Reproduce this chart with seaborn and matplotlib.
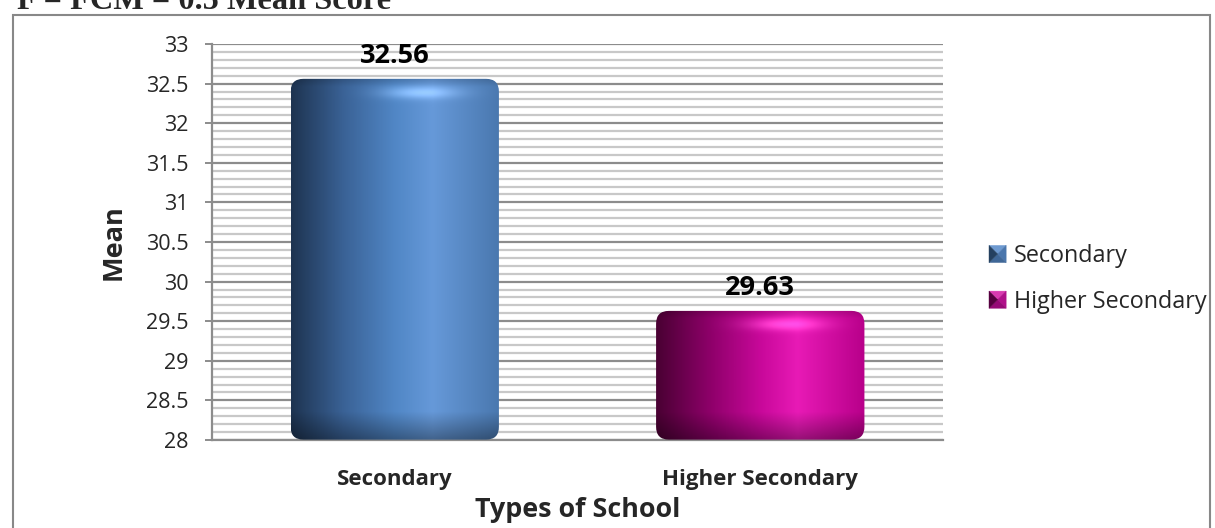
import numpy as np
import pandas as pd
import matplotlib
matplotlib.use("Agg")
import matplotlib.pyplot as plt
import seaborn as sns
from matplotlib.patches import FancyBboxPatch, Rectangle, Polygon
from matplotlib.colors import LinearSegmentedColormap
from matplotlib.ticker import MultipleLocator
from matplotlib.legend_handler import HandlerBase

categories = ["Secondary", "Higher Secondary"]
means = [32.56, 29.63]
value_labels = ["32.56", "29.63"]
yticks = [28, 28.5, 29, 29.5, 30, 30.5, 31, 31.5, 32, 32.5, 33]
ytick_labels = ["28", "28.5", "29", "29.5", "30", "30.5", "31", "31.5", "32", "32.5", "33"]

base_colors = ["#4F81BD", "#D0109F"]
grad_stops = [
    ["#1E3451", "#3A6296", "#5187C6", "#6699D9", "#4A78AF"],
    ["#4A0033", "#8C0068", "#C8089A", "#E81AB6", "#B8008A"],
]
# legend key facets: top, right, bottom, left
key_facets = [
    ["#6E9AD0", "#4A76AC", "#3F6797", "#24405F"],
    ["#D83AB0", "#B0108A", "#960A76", "#55003F"],
]

sns.set_theme(style="white")
plt.rcParams["font.family"] = ["Open Sans", "DejaVu Sans"]

W, H = 1215, 528
fig = plt.figure(figsize=(W / 100, H / 100), dpi=100)
AX_L, AX_R, AX_T, AX_B = 212, 943, 44, 440
ax = fig.add_axes([AX_L / W, 1 - AX_B / H, (AX_R - AX_L) / W, (AX_B - AX_T) / H])

df = pd.DataFrame({"School": categories, "Mean": means})
sns.barplot(data=df, x="School", y="Mean", hue="School", palette=base_colors,
            width=0.57, ax=ax, legend=False, zorder=3)

YMIN, YMAX = 28, 33
ax.set_ylim(YMIN, YMAX)
ax.set_xlim(-0.5, 1.5)
px_per_y = (AX_B - AX_T) / (YMAX - YMIN)
px_per_x = (AX_R - AX_L) / 2.0

# grid
ax.yaxis.set_minor_locator(MultipleLocator(0.1))
ax.set_yticks(yticks)
ax.set_yticklabels(ytick_labels, fontsize=15.5)
ax.grid(axis="y", which="minor", color="#C8C8C8", linewidth=1.6, zorder=0)
ax.grid(axis="y", which="major", color="#8C8C8C", linewidth=1.6, zorder=0)
ax.set_axisbelow(True)
for s in ["top", "right"]:
    ax.spines[s].set_visible(False)
for s in ["left", "bottom"]:
    ax.spines[s].set_color("#8C8C8C")
    ax.spines[s].set_linewidth(1.6)
ax.tick_params(axis="y", which="major", left=True, length=5, width=1.4, color="#8C8C8C", pad=12)
ax.tick_params(axis="y", which="minor", left=False)
ax.tick_params(axis="x", bottom=False, pad=15)
for lbl in ax.get_xticklabels():
    lbl.set_fontweight("bold")
    lbl.set_fontsize(16)

ax.set_xlabel("Types of School", fontsize=19.4, fontweight="bold", labelpad=5)
ax.set_ylabel("Mean", fontsize=19.5, fontweight="bold", labelpad=14)

# gradient fills for bars
aspect = (1 / px_per_y) / (1 / px_per_x)
bars = [p for p in ax.patches]
for i, p in enumerate(bars):
    x0, w = p.get_x(), p.get_width()
    top = p.get_y() + p.get_height()
    y0 = YMIN
    h = top - y0
    p.set_facecolor("none")
    p.set_edgecolor("none")
    cmap = LinearSegmentedColormap.from_list(
        f"g{i}", list(zip([0, 0.25, 0.5, 0.68, 1.0], grad_stops[i])))
    nx, ny = 200, 300
    xs = np.linspace(0, 1, nx)
    rgb = cmap(xs)[:, :3]
    img = np.tile(rgb[None, :, :], (ny, 1, 1))
    ypx = np.linspace(0, h * px_per_y, ny)[:, None, None]  # px from top
    bpx = h * px_per_y - ypx  # px from bottom
    bottom_dark = 1 - 0.35 * np.clip((28 - bpx) / 28, 0, 1)
    img = img * bottom_dark
    top_dark = 1 - 0.15 * np.clip((8 - ypx) / 8, 0, 1)
    img = img * top_dark
    top_hl = 0.22 * np.exp(-((ypx - 14) / 6) ** 2) * np.exp(-((xs[None, :, None] - 0.62) / 0.18) ** 2)
    img = np.clip(img + top_hl, 0, 1)
    clip = FancyBboxPatch((x0, y0 + 0.005), w, h - 0.005,
                          boxstyle="round,pad=0,rounding_size=0.035",
                          mutation_aspect=aspect, transform=ax.transData,
                          facecolor="none", edgecolor="none")
    ax.add_patch(clip)
    im = ax.imshow(img, extent=[x0, x0 + w, y0, top], aspect="auto",
                   zorder=3, interpolation="bilinear")
    im.set_clip_path(clip)
    ax.text(x0 + w / 2, means[i] + 0.12, value_labels[i], ha="center", va="bottom",
            fontsize=19.5, fontweight="bold", color="black", zorder=5)

ax.set_xlim(-0.5, 1.5)
ax.set_ylim(YMIN, YMAX)


# legend with pyramid-shaded keys
class PyramidKey:
    def __init__(self, facets):
        self.facets = facets


class PyramidHandler(HandlerBase):
    def create_artists(self, legend, orig_handle, xdescent, ydescent,
                       width, height, fontsize, trans):
        s = height * 1.05
        x0 = -xdescent
        y0 = -ydescent + (height - s) / 2
        cx, cy = x0 + s / 2, y0 + s / 2
        c = [(x0, y0), (x0 + s, y0), (x0 + s, y0 + s), (x0, y0 + s)]
        tris = [
            [c[3], c[2], (cx, cy)],  # top
            [c[2], c[1], (cx, cy)],  # right
            [c[1], c[0], (cx, cy)],  # bottom
            [c[0], c[3], (cx, cy)],  # left
        ]
        arts = []
        for tri, col in zip(tris, orig_handle.facets):
            pg = Polygon(tri, closed=True, facecolor=col, edgecolor=col, linewidth=0.3,
                         transform=trans)
            arts.append(pg)
        return arts


handles = [PyramidKey(f) for f in key_facets]
fig.legend(handles, categories, loc="center left", bbox_to_anchor=(989 / W, 1 - 279 / H),
           frameon=False, fontsize=16.8, handletextpad=0.05, labelspacing=0.93,
           handlelength=1.0, borderaxespad=0, borderpad=0,
           handler_map={PyramidKey: PyramidHandler()})

# outer frame
fig.patches.append(Rectangle((13 / W, -0.05), (1210 - 13) / W, 1.05 - 15 / H,
                             transform=fig.transFigure, fill=False,
                             edgecolor="#888888", linewidth=1.5))

# cut-off heading
fig.text(17 / W, 1 - 9 / H, "F = FCM = 0.5 Mean Score", ha="left", va="baseline",
         fontsize=23.3, fontweight="bold", family=["Liberation Serif", "DejaVu Serif"])

fig.savefig("out.png", dpi=100)
